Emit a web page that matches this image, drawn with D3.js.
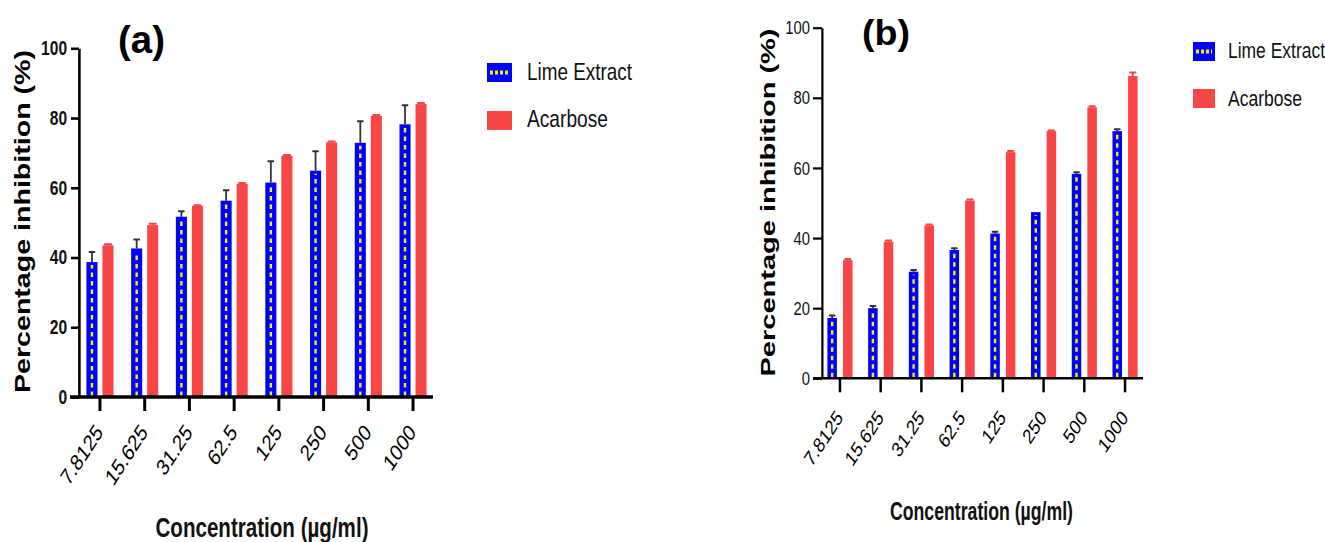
<!DOCTYPE html>
<html><head><meta charset="utf-8">
<script src="https://cdn.jsdelivr.net/npm/d3@7"></script>
<style>body{margin:0;background:#fff}svg{display:block}</style>
</head><body>
<svg id="chart" width="1325" height="542"></svg>
<script>
// ---------- data ----------
const categories = ["7.8125","15.625","31.25","62.5","125","250","500","1000"];
const seriesNames = ["Lime Extract","Acarbose"];
const yTickValues = [0,20,40,60,80,100];
const panelTitles = ["(a)","(b)"];
const yAxisTitle = "Percentage inhibition (%)";
const xAxisTitle = "Concentration (\u00b5g/ml)";

const limeA    = [38.7, 42.6, 51.7, 56.3, 61.5, 64.9, 72.9, 78.2];
const limeErrA = [2.9, 2.6, 1.6, 3.0, 6.1, 5.6, 6.2, 5.5];
const acarA    = [43.5, 49.3, 54.8, 61.1, 69.2, 73.0, 80.6, 84.0];
const acarErrA = [0.3, 0.4, 0.2, 0.3, 0.2, 0.3, 0.3, 0.3];

const limeB    = [17.2, 20.0, 30.4, 36.6, 41.3, 47.4, 58.3, 70.5];
const limeErrB = [0.7, 0.6, 0.5, 0.5, 0.5, 0.0, 0.5, 0.5];
const acarB    = [33.7, 39.0, 43.6, 50.7, 64.5, 70.5, 77.3, 86.2];
const acarErrB = [0.3, 0.3, 0.3, 0.3, 0.3, 0.2, 0.3, 1.0];

// ---------- layout ----------
const SX = 0.78;               // whole figure is horizontally compressed
const u = x => x / SX;
const FONT = "'Liberation Sans', Arial, sans-serif";
const BLUE = "#0000ff", YELLOW = "#f2f200", RED = "#f84545", ERR = "#333";

const svg = d3.select("#chart");
const root = svg.append("g").attr("transform", `scale(${SX},1)`);

const panels = [
  { lime: limeA, limeErr: limeErrA, acar: acarA, acarErr: acarErrA, title: panelTitles[0],
    yRange: [397, 48.3], xRange: [u(77.6), u(435.4)], axisX: u(79), xLine: [u(70), u(433)],
    padIn: 0.31, padOut: 0.55, yTickLen: u(8), yTickPad: 5, yTickFont: 20, yTickWeight: "bold",
    xTickFont: 23, xTickWeight: "normal", xTickDx: 4, xTickDy: 36, xTickLen: 14, xTickRot: -50,
    axisW: 2.6, xAxisW: 3.5, tickW: 3,
    titleX: u(141.5), titleY: 53, titleSize: 38, titleLen: u(47),
    yLabX: u(29.5), yLabY: 221.5, yLabSize: 29, yLabLen: 343,
    xLabX: u(262), xLabY: 537, xLabSize: 27, xLabLen: u(213),
    legX: u(487), legW: u(25), legH: 19, legY: [63, 111], legTextX: u(527), legBase: [80, 127], legSize: 24, legLens: [u(105), u(81)] },
  { lime: limeB, limeErr: limeErrB, acar: acarB, acarErr: acarErrB, title: panelTitles[1],
    yRange: [378.3, 27.7], xRange: [u(819.6), u(1145.4)], axisX: u(822), xLine: [u(813), u(1143)],
    padIn: 0.39, padOut: 0.5, yTickLen: u(9), yTickPad: 4, yTickFont: 19, yTickWeight: "normal",
    xTickFont: 21, xTickWeight: "normal", xTickDx: 4, xTickDy: 40, xTickLen: 14, xTickRot: -50,
    axisW: 2.2, xAxisW: 2.5, tickW: 2.5,
    titleX: u(886), titleY: 45, titleSize: 36, titleLen: u(48),
    yLabX: u(775), yLabY: 202.5, yLabSize: 27, yLabLen: 348,
    xLabX: u(981.5), xLabY: 520, xLabSize: 25, xLabLen: u(183),
    legX: u(1193), legW: u(22), legH: 19, legY: [42, 89], legTextX: u(1228), legBase: [58, 106], legSize: 22.5, legLens: [u(97), u(74)] }
];

panels.forEach(p => {
  const g = root.append("g");
  const y = d3.scaleLinear().domain([0, 100]).range(p.yRange);
  const x = d3.scaleBand().domain(categories).range(p.xRange).padding(0);
  const sub = d3.scaleBand().domain(seriesNames).range([0, x.bandwidth()])
                .paddingInner(p.padIn).paddingOuter(p.padOut);

  const rows = categories.map((c, i) => ({ c, lime: p.lime[i], limeErr: p.limeErr[i], acar: p.acar[i], acarErr: p.acarErr[i] }));

  const bw = sub.bandwidth();
  // Acarbose error bars
  rows.forEach(r => {
    const cx = x(r.c) + sub("Acarbose") + bw / 2;
    g.append("line").attr("x1", cx).attr("x2", cx).attr("y1", y(r.acar)).attr("y2", y(r.acar + r.acarErr))
      .attr("stroke", RED).attr("stroke-width", 2 / SX);
    g.append("line").attr("x1", cx - bw * 0.3).attr("x2", cx + bw * 0.3).attr("y1", y(r.acar + r.acarErr)).attr("y2", y(r.acar + r.acarErr))
      .attr("stroke", RED).attr("stroke-width", 2).attr("stroke-linecap", "round");
  });
  // Lime error bars
  rows.forEach(r => {
    if (r.limeErr <= 0) return;
    const cx = x(r.c) + sub("Lime Extract") + bw / 2;
    g.append("line").attr("x1", cx).attr("x2", cx).attr("y1", y(r.lime)).attr("y2", y(r.lime + r.limeErr))
      .attr("stroke", ERR).attr("stroke-width", 1.8 / SX);
    g.append("line").attr("x1", cx - u(2.6)).attr("x2", cx + u(2.6)).attr("y1", y(r.lime + r.limeErr)).attr("y2", y(r.lime + r.limeErr))
      .attr("stroke", ERR).attr("stroke-width", 2).attr("stroke-linecap", "round");
  });

  // Bars
  g.selectAll(".acar").data(rows).join("rect")
    .attr("x", d => x(d.c) + sub("Acarbose")).attr("width", bw)
    .attr("y", d => y(d.acar)).attr("height", d => y(0) - y(d.acar)).attr("fill", RED);
  g.selectAll(".lime").data(rows).join("rect")
    .attr("x", d => x(d.c) + sub("Lime Extract")).attr("width", bw)
    .attr("y", d => y(d.lime)).attr("height", d => y(0) - y(d.lime)).attr("fill", BLUE);
  g.selectAll(".limeDash").data(rows).join("line")
    .attr("x1", d => x(d.c) + sub("Lime Extract") + bw / 2).attr("x2", d => x(d.c) + sub("Lime Extract") + bw / 2)
    .attr("y1", y(0) - 1).attr("y2", d => y(d.lime) + 3)
    .attr("stroke", YELLOW).attr("stroke-width", 2.4 / SX).attr("stroke-dasharray", "4.5,4");

  // Y axis
  const yAx = g.append("g").attr("transform", `translate(${p.axisX},0)`)
    .call(d3.axisLeft(y).tickValues(yTickValues).tickSize(p.yTickLen).tickSizeOuter(0).tickPadding(p.yTickPad));
  yAx.select(".domain").attr("stroke", "#000").attr("stroke-width", p.axisW / SX);
  yAx.selectAll(".tick line").attr("stroke", "#000").attr("stroke-width", p.axisW);
  yAx.selectAll(".tick text").attr("font-family", FONT).attr("font-size", p.yTickFont)
    .attr("font-weight", p.yTickWeight).attr("fill", "#111");

  // X axis
  const xAx = g.append("g").attr("transform", `translate(0,${y(0)})`)
    .call(d3.axisBottom(x).tickSize(p.xTickLen).tickSizeOuter(0));
  xAx.select(".domain").remove();
  xAx.selectAll(".tick line").attr("stroke", "#000").attr("stroke-width", p.tickW / SX);
  xAx.selectAll(".tick text").attr("x", 0).attr("y", 0).attr("dy", "0")
    .attr("transform", `translate(${u(p.xTickDx)},${p.xTickDy}) rotate(${p.xTickRot})`)
    .attr("text-anchor", "end").attr("font-family", FONT).attr("font-size", p.xTickFont)
    .attr("font-weight", p.xTickWeight).attr("fill", "#000");
  g.append("line").attr("x1", p.xLine[0]).attr("x2", p.xLine[1]).attr("y1", y(0)).attr("y2", y(0))
    .attr("stroke", "#000").attr("stroke-width", p.xAxisW);

  // Titles
  g.append("text").attr("x", p.titleX).attr("y", p.titleY).attr("text-anchor", "middle")
    .attr("font-family", FONT).attr("font-weight", "bold").attr("font-size", p.titleSize)
    .attr("textLength", p.titleLen).attr("lengthAdjust", "spacingAndGlyphs").attr("fill", "#000").text(p.title);
  g.append("text").attr("transform", `translate(${p.yLabX},${p.yLabY}) rotate(-90)`).attr("text-anchor", "middle")
    .attr("font-family", FONT).attr("font-weight", "bold").attr("font-size", p.yLabSize)
    .attr("textLength", p.yLabLen).attr("lengthAdjust", "spacingAndGlyphs").attr("fill", "#000").text(yAxisTitle);
  g.append("text").attr("x", p.xLabX).attr("y", p.xLabY).attr("text-anchor", "middle")
    .attr("font-family", FONT).attr("font-weight", "bold").attr("font-size", p.xLabSize)
    .attr("textLength", p.xLabLen).attr("lengthAdjust", "spacingAndGlyphs").attr("fill", "#111").text(xAxisTitle);

  // Legend
  seriesNames.forEach((s, i) => {
    const ly = p.legY[i];
    g.append("rect").attr("x", p.legX).attr("y", ly).attr("width", p.legW).attr("height", p.legH)
      .attr("fill", i === 0 ? BLUE : RED);
    if (i === 0) {
      g.append("line").attr("x1", p.legX + u(3)).attr("x2", p.legX + p.legW - u(3))
        .attr("y1", ly + p.legH / 2).attr("y2", ly + p.legH / 2)
        .attr("stroke", YELLOW).attr("stroke-width", 4).attr("stroke-dasharray", `${u(3)},${u(2)}`);
    }
    g.append("text").attr("x", p.legTextX).attr("y", p.legBase[i])
      .attr("font-family", FONT).attr("font-size", p.legSize)
      .attr("textLength", p.legLens[i]).attr("lengthAdjust", "spacingAndGlyphs").attr("fill", "#111").text(s);
  });
});
</script>
</body></html>
